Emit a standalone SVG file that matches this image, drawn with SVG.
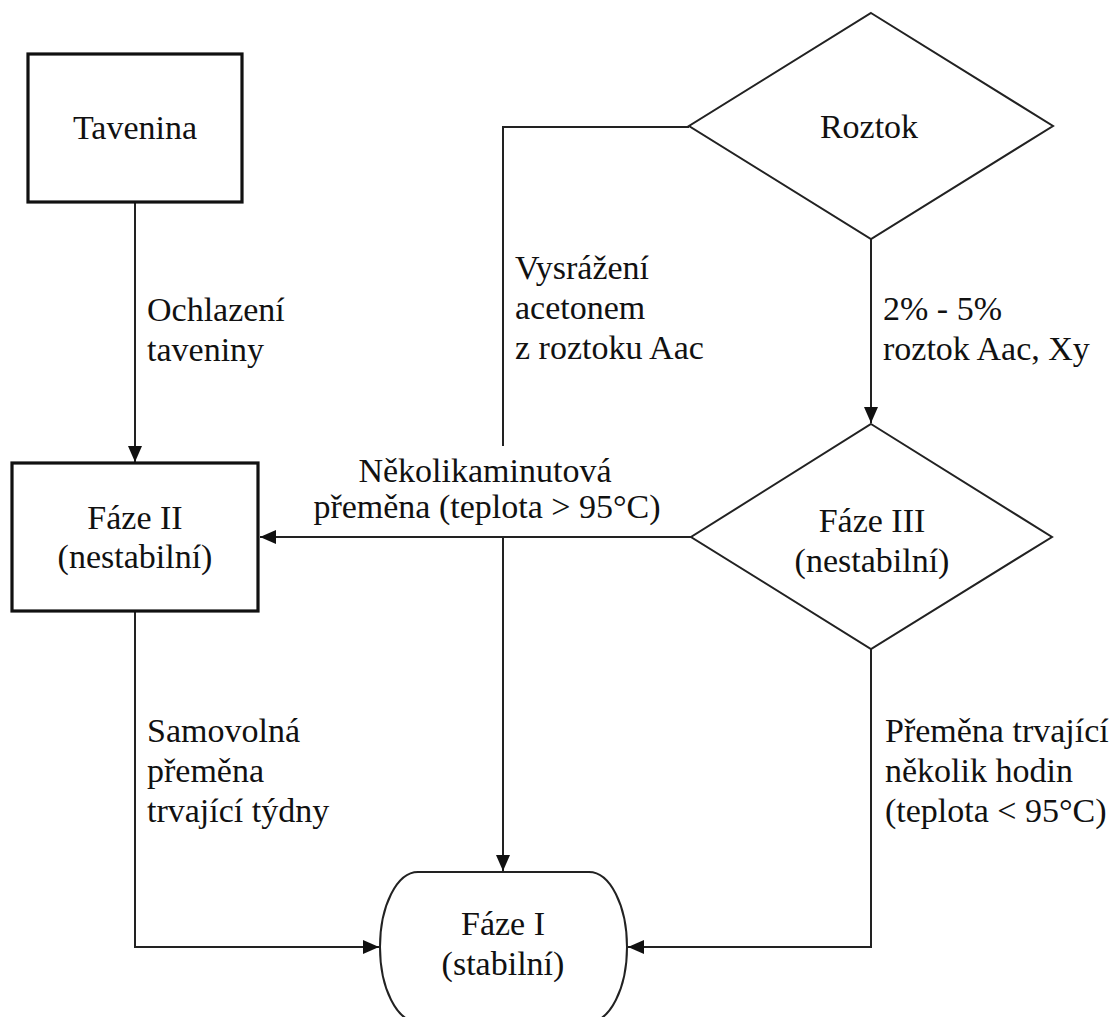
<svg xmlns="http://www.w3.org/2000/svg" width="1115" height="1017" viewBox="0 0 1115 1017">
<defs>
<style>
text{font-family:'Liberation Serif','DejaVu Serif','Times New Roman',Times,serif;font-size:34px;fill:#111}
.c{text-anchor:middle}
.box{fill:#fff;stroke:#111;stroke-width:3.2}
.dia{fill:#fff;stroke:#222;stroke-width:2}
.ln{fill:none;stroke:#222;stroke-width:2}
</style>
<marker id="ah" markerUnits="userSpaceOnUse" markerWidth="16" markerHeight="14" refX="16" refY="7" orient="auto">
<path d="M0,0 L16,7 L0,14 z" fill="#111"/>
</marker>
</defs>
<rect width="1115" height="1017" fill="#fff"/>
<g id="connectors">
<line class="ln" x1="135" y1="202" x2="135" y2="462" marker-end="url(#ah)"/>
<line class="ln" x1="871" y1="239" x2="871" y2="423" marker-end="url(#ah)"/>
<polyline class="ln" points="689,127 503,127 503,446"/>
<line class="ln" x1="691" y1="537" x2="260" y2="537" marker-end="url(#ah)"/>
<line class="ln" x1="503" y1="537" x2="503" y2="871" marker-end="url(#ah)"/>
<polyline class="ln" points="135,611 135,947 379,947" marker-end="url(#ah)"/>
<polyline class="ln" points="871,649 871,947 628,947" marker-end="url(#ah)"/>
</g>
<g id="label-ochlazeni" font-family="Liberation Serif">
<text x="147" y="321">Ochlazení</text>
<text x="147" y="361">taveniny</text>
</g>
<g id="label-vysrazeni">
<text x="515" y="279">Vysrážení</text>
<text x="515" y="319">acetonem</text>
<text x="515" y="359">z roztoku Aac</text>
</g>
<g id="label-roztok">
<text x="883" y="320">2% - 5%</text>
<text x="883" y="360">roztok Aac, Xy</text>
</g>
<g id="label-nekolikaminutova">
<text class="c" x="485" y="482">Několikaminutová</text>
<text class="c" x="487" y="518">přeměna (teplota &gt; 95°C)</text>
</g>
<g id="label-samovolna">
<text x="147" y="742">Samovolná</text>
<text x="147" y="782">přeměna</text>
<text x="147" y="822">trvající týdny</text>
</g>
<g id="label-premena">
<text x="885" y="742">Přeměna trvající</text>
<text x="885" y="782">několik hodin</text>
<text x="885" y="822">(teplota &lt; 95°C)</text>
</g>
<g id="tavenina">
<rect class="box" x="28" y="54" width="214" height="148"/>
<text class="c" x="135" y="139">Tavenina</text>
</g>
<g id="roztok">
<polygon class="dia" points="871,13 1053,126 871,239 689,126"/>
<text class="c" x="869" y="138">Roztok</text>
</g>
<g id="faze2">
<rect class="box" x="12" y="463" width="246" height="148"/>
<text class="c" x="135" y="529">Fáze II</text>
<text class="c" x="135" y="568">(nestabilní)</text>
</g>
<g id="faze3">
<polygon class="dia" points="871,424 1052,537 871,649 691,537"/>
<text class="c" x="872" y="532">Fáze III</text>
<text class="c" x="872" y="572">(nestabilní)</text>
</g>
<g id="faze1">
<path class="dia" d="M418,872 H589 A38,75 0 0 1 627,947 A38,75 0 0 1 589,1022 H418 A38,75 0 0 1 380,947 A38,75 0 0 1 418,872 Z"/>
<text class="c" x="503" y="935">Fáze I</text>
<text class="c" x="503" y="975">(stabilní)</text>
</g>
</svg>
